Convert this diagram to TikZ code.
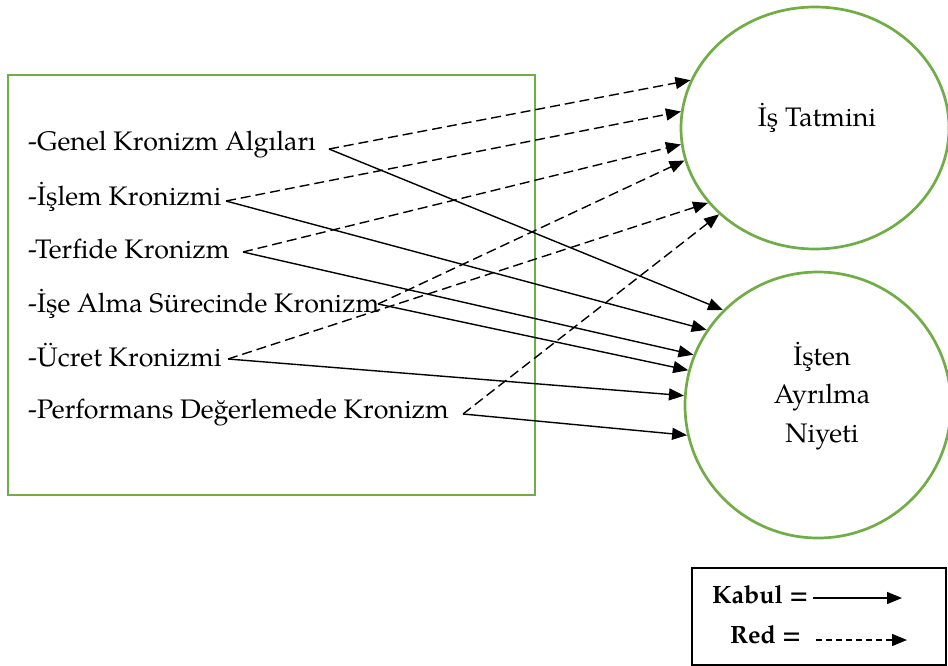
\documentclass[tikz,border=0pt]{standalone}
\usepackage{fontspec}
\setmainfont{TeX Gyre Pagella}
\usetikzlibrary{arrows.meta,shapes.geometric}
\definecolor{grn}{RGB}{112,173,71}
\tikzset{
  txt/.style={anchor=base west, inner sep=0pt, font=\fontsize{26.8}{38.5}\selectfont},
  ctxt/.style={anchor=base, inner sep=0pt, font=\fontsize{26.8}{38.5}\selectfont, align=center},
  gbox/.style={draw=grn, line width=2.7pt},
  yes/.style={line width=1.4pt, -{Triangle[length=15pt,width=12pt]}},
  no/.style={line width=1.4pt, dash pattern=on 10pt off 5pt, -{Triangle[length=15pt,width=12pt]}},
}
\begin{document}
\begin{tikzpicture}[x=1pt,y=-1pt]
\useasboundingbox (0,0) rectangle (948,666);
% frame of the items
\node[gbox, rectangle, minimum width=527pt, minimum height=420pt, inner sep=0pt] (frame) at (271.5,285) {};
% targets
\node[gbox, ellipse, minimum width=268pt, minimum height=242pt, inner sep=0pt] (top) at (815,128) {};
\node[gbox, circle, minimum size=266pt, inner sep=0pt] (bot) at (818,405) {};
\node[ctxt] (toptxt) at (817,127) {İş Tatmini};
\node[ctxt] (bottxt) at (822,442) {İşten\\Ayrılma\\Niyeti};
% items
\node[txt] (g1) at (28,151) {-Genel Kronizm Algıları};
\node[txt] (g2) at (28,205) {-İşlem Kronizmi};
\node[txt] (g3) at (28,258) {-Terfide Kronizm};
\node[txt] (g4) at (28,312) {-İşe Alma Sürecinde Kronizm};
\node[txt] (g5) at (28,366) {-Ücret Kronizmi};
\node[txt] (g6) at (28,418) {-Performans Değerlemede Kronizm};
% start points
\coordinate (s1) at (329,149);
\coordinate (s2) at (226,201);
\coordinate (s3) at (243,252);
\coordinate (s4) at (378,304);
\coordinate (s5) at (228,359);
\coordinate (s6) at (463,414);
% rejected (dashed) to İş Tatmini
\draw[no] (s1) -- (top.159.3);
\draw[no] (s2) -- (top.173.8);
\draw[no] (s3) -- (top.187.5);
\draw[no] (s4) -- (top.194.4);
\draw[no] (s5) -- (top.215.5);
\draw[no] (s6) -- (top.222.5);
% accepted (solid) to İşten Ayrılma Niyeti
\draw[yes] (s1) -- (bot.135.3);
\draw[yes] (s2) -- (bot.146);
\draw[yes] (s3) -- (bot.158.7);
\draw[yes] (s4) -- (bot.165.9);
\draw[yes] (s5) -- (bot.176.5);
\draw[yes] (s6) -- (bot.193);
% legend
\node[draw=black, line width=1.2pt, rectangle, minimum width=254pt, minimum height=97pt, inner sep=0pt] (legend) at (819,616.5) {};
\node[txt, font=\fontsize{25}{30}\selectfont\bfseries] (kabul) at (712,603) {Kabul =};
\node[txt, font=\fontsize{25}{30}\selectfont\bfseries] (red) at (730,643) {Red =};
\coordinate (k1) at (813,598);
\coordinate (k2) at (902,598);
\coordinate (r1) at (816,640);
\coordinate (r2) at (907,640);
\draw[yes] (k1) -- (k2);
\draw[line width=1.4pt, dash pattern=on 6pt off 4pt, -{Triangle[length=15pt,width=12pt]}] (r1) -- (r2);
\end{tikzpicture}
\end{document}
